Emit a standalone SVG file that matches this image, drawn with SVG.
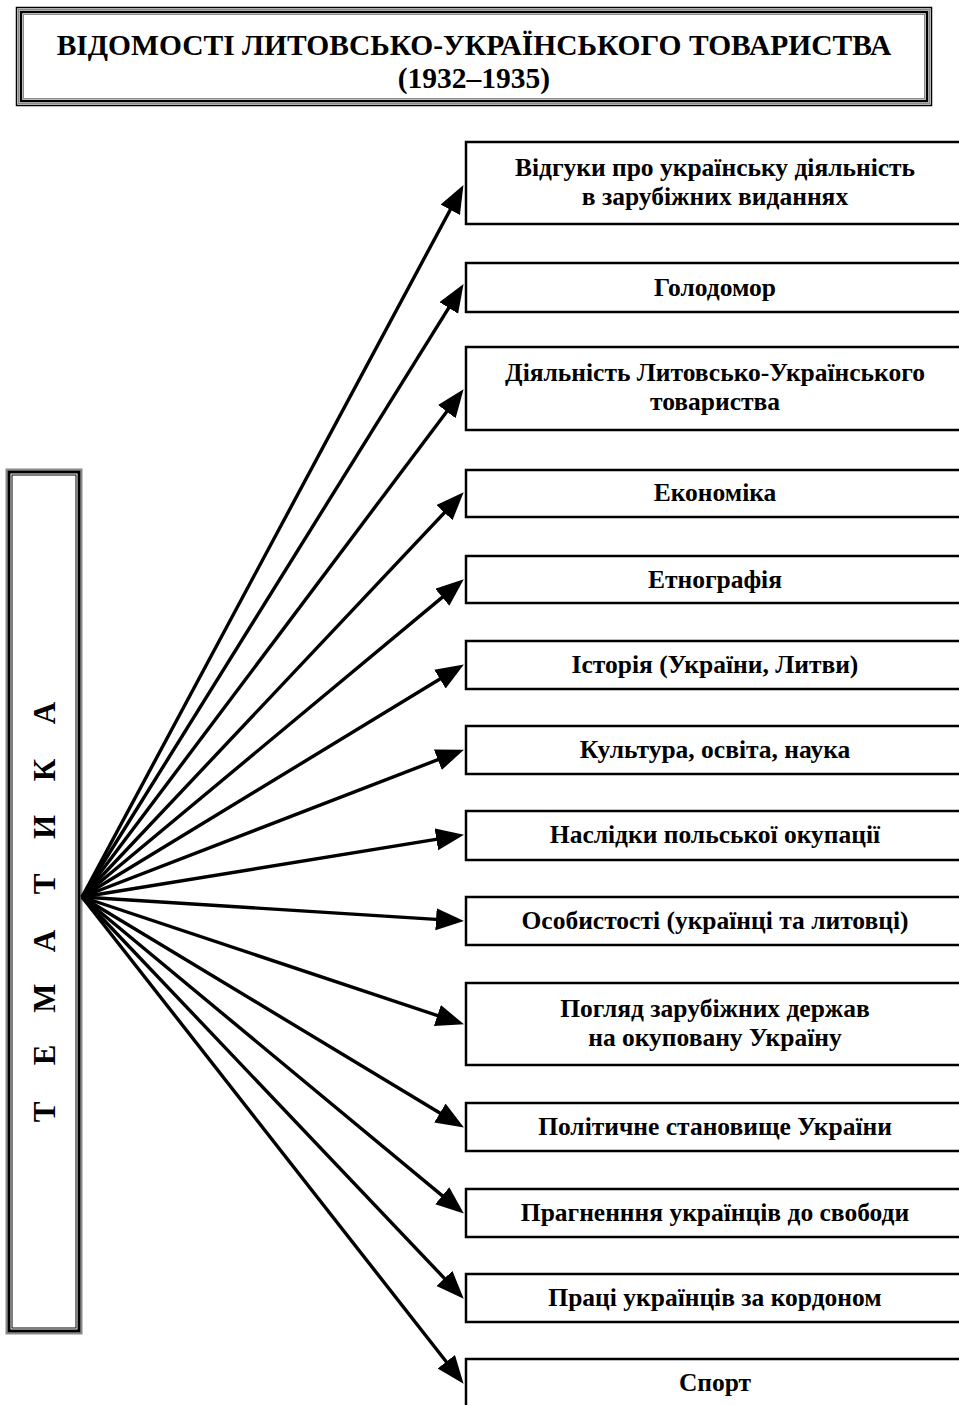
<svg xmlns="http://www.w3.org/2000/svg" width="959" height="1405" viewBox="0 0 959 1405">
<style>
.t{font-family:"Liberation Serif","Times New Roman",serif;font-weight:bold;fill:#000;text-anchor:middle}
.bt{font-size:25.5px}
.box{fill:#fff;stroke:#000;stroke-width:2.5}
.ln{stroke:#000;stroke-width:3.4;fill:none;marker-end:url(#ah)}
.g{fill:none;stroke:#8a8a8a}
.k{fill:none;stroke:#000}
</style>
<defs>
<marker id="ah" markerUnits="userSpaceOnUse" markerWidth="29" markerHeight="24" refX="12" refY="11" orient="auto">
<path d="M0,0 L28,11 L0,22 z" fill="#000"/>
</marker>
</defs>
<rect width="959" height="1405" fill="#fff"/>
<g id="title">
<rect x="16.5" y="7.5" width="915" height="98" class="k" stroke-width="1.5"/>
<rect x="18.5" y="9.5" width="911" height="94" class="g" stroke-width="1.5"/>
<rect x="21" y="12" width="906" height="89" class="k" stroke-width="2.5"/>
<rect x="23.5" y="14.5" width="901" height="84" class="g" stroke-width="1"/>
<text class="t" x="474" y="55" font-size="29.5">ВІДОМОСТІ ЛИТОВСЬКО-УКРАЇНСЬКОГО ТОВАРИСТВА</text>
<text class="t" x="474" y="88" font-size="29.5">(1932–1935)</text>
</g>
<g id="tematyka">
<rect x="6.5" y="469.5" width="75" height="864" class="g" stroke-width="2"/>
<rect x="9" y="472" width="70" height="859" class="k" stroke-width="3"/>
<rect x="12" y="475" width="64" height="853" class="k" stroke-width="1"/>
<text class="t" font-size="31" transform="rotate(-90)" x="-1112 -1055 -998 -941 -884 -827 -770 -713" y="55">ТЕМАТИКА</text>
</g>
<g id="connectors">
<line class="ln" x1="82" y1="897" x2="455.9" y2="199.2"/>
<line class="ln" x1="82" y1="897" x2="455.1" y2="297.7"/>
<line class="ln" x1="82" y1="897" x2="454.0" y2="402.0"/>
<line class="ln" x1="82" y1="897" x2="452.7" y2="503.9"/>
<line class="ln" x1="82" y1="897" x2="451.5" y2="589.6"/>
<line class="ln" x1="82" y1="897" x2="450.2" y2="672.8"/>
<line class="ln" x1="82" y1="897" x2="449.0" y2="755.4"/>
<line class="ln" x1="82" y1="897" x2="448.2" y2="837.4"/>
<line class="ln" x1="82" y1="897" x2="448.0" y2="920.1"/>
<line class="ln" x1="82" y1="897" x2="448.8" y2="1019.3"/>
<line class="ln" x1="82" y1="897" x2="450.2" y2="1119.2"/>
<line class="ln" x1="82" y1="897" x2="451.5" y2="1203.4"/>
<line class="ln" x1="82" y1="897" x2="452.7" y2="1287.1"/>
<line class="ln" x1="82" y1="897" x2="453.7" y2="1371.2"/>
</g>
<g id="n1"><rect class="box" x="466" y="142" width="500" height="82"/>
<text class="t bt" x="715" y="176">Відгуки про українську діяльність</text>
<text class="t bt" x="715" y="205">в зарубіжних виданнях</text></g>
<g id="n2"><rect class="box" x="466" y="263" width="500" height="49"/>
<text class="t bt" x="715" y="296">Голодомор</text></g>
<g id="n3"><rect class="box" x="466" y="347" width="500" height="83"/>
<text class="t bt" x="715" y="381">Діяльність Литовсько-Українського</text>
<text class="t bt" x="715" y="410">товариства</text></g>
<g id="n4"><rect class="box" x="466" y="470" width="500" height="47"/>
<text class="t bt" x="715" y="501">Економіка</text></g>
<g id="n5"><rect class="box" x="466" y="556" width="500" height="47"/>
<text class="t bt" x="715" y="588">Етнографія</text></g>
<g id="n6"><rect class="box" x="466" y="641" width="500" height="48"/>
<text class="t bt" x="715" y="673">Історія (України, Литви)</text></g>
<g id="n7"><rect class="box" x="466" y="726" width="500" height="48"/>
<text class="t bt" x="715" y="758">Культура, освіта, наука</text></g>
<g id="n8"><rect class="box" x="466" y="811" width="500" height="49"/>
<text class="t bt" x="715" y="843">Наслідки польської окупації</text></g>
<g id="n9"><rect class="box" x="466" y="897" width="500" height="48"/>
<text class="t bt" x="715" y="929">Особистості (українці та литовці)</text></g>
<g id="n10"><rect class="box" x="466" y="983" width="500" height="82"/>
<text class="t bt" x="715" y="1017">Погляд зарубіжних держав</text>
<text class="t bt" x="715" y="1046">на окуповану Україну</text></g>
<g id="n11"><rect class="box" x="466" y="1103" width="500" height="48"/>
<text class="t bt" x="715" y="1135">Політичне становище України</text></g>
<g id="n12"><rect class="box" x="466" y="1189" width="500" height="48"/>
<text class="t bt" x="715" y="1221">Прагненння українців до свободи</text></g>
<g id="n13"><rect class="box" x="466" y="1274" width="500" height="48"/>
<text class="t bt" x="715" y="1306">Праці українців за кордоном</text></g>
<g id="n14"><rect class="box" x="466" y="1359" width="500" height="60"/>
<text class="t bt" x="715" y="1391">Спорт</text></g>
</svg>
